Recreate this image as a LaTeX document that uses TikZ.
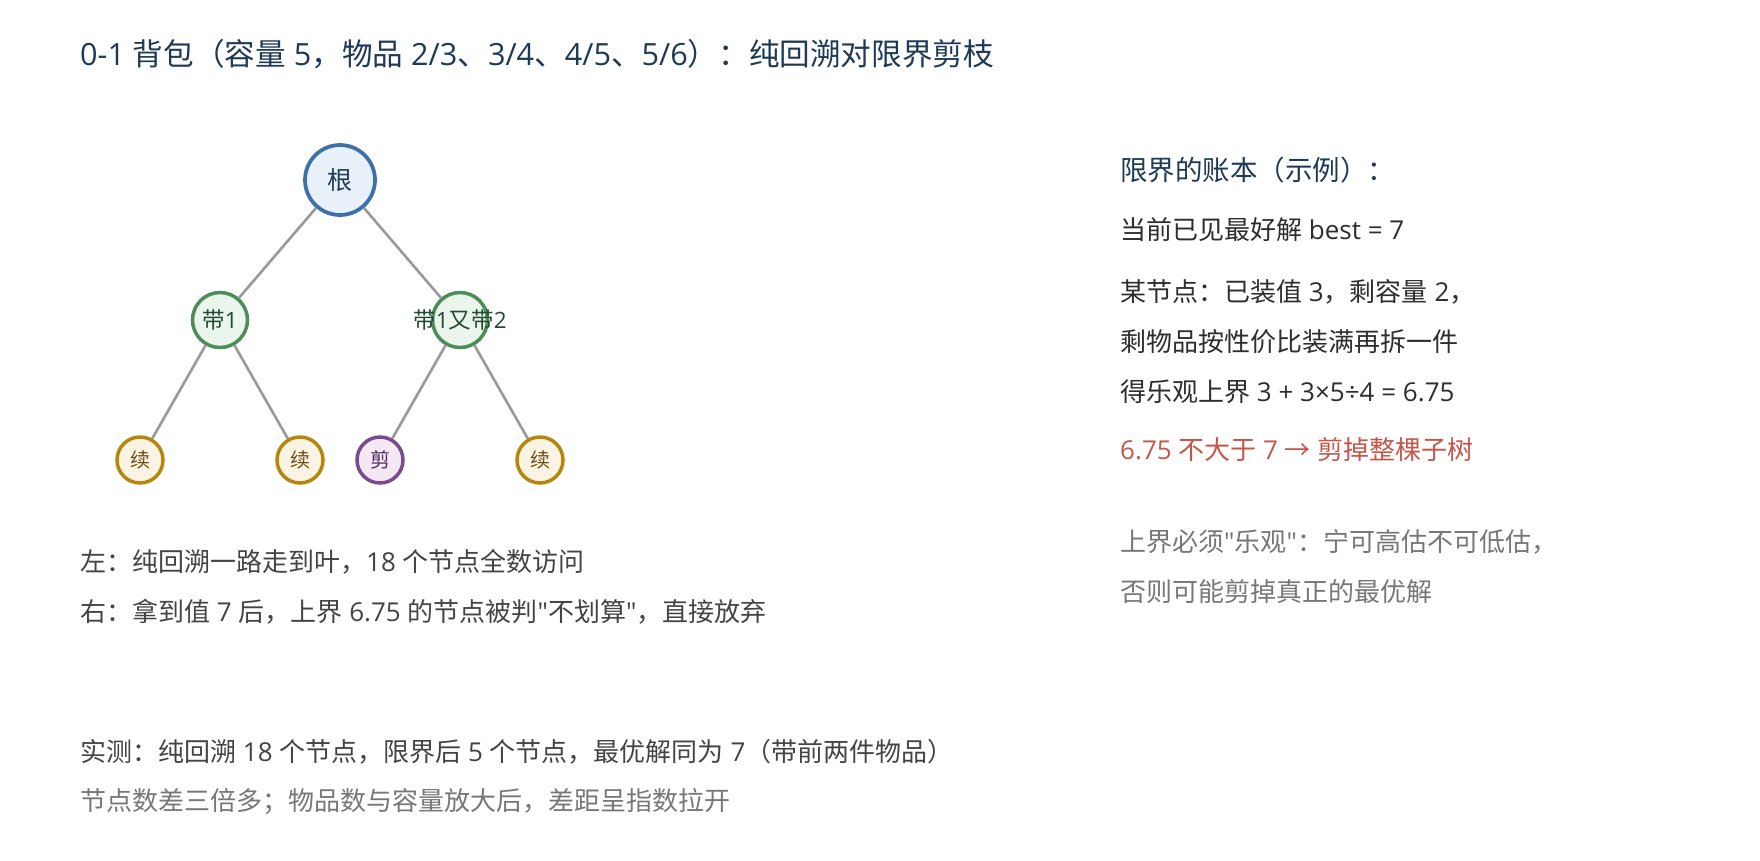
\documentclass[tikz,border=0pt]{standalone}
\usepackage{fontspec}
\setmainfont{Noto Sans CJK SC}[Ligatures=TeXOff]
\newfontfamily\latfont{Open Sans}[Ligatures=TeXOff]
\newcommand\lat[1]{{\latfont #1}}
\definecolor{navy}{HTML}{1E3A56}
\definecolor{edgegray}{HTML}{9A9A9A}
\definecolor{rootblue}{HTML}{3D6FA8}
\definecolor{rootfill}{HTML}{E8F0FA}
\definecolor{midgreen}{HTML}{4C8B5A}
\definecolor{midfill}{HTML}{EAF5EC}
\definecolor{midtext}{HTML}{234A30}
\definecolor{leafgold}{HTML}{B8860B}
\definecolor{leaffill}{HTML}{FBF3E3}
\definecolor{leaftext}{HTML}{6B4F12}
\definecolor{cutpurple}{HTML}{7B4A8E}
\definecolor{cutfill}{HTML}{F4E8F5}
\definecolor{cuttext}{HTML}{4A2A5C}
\definecolor{bodytext}{HTML}{2E2E2E}
\definecolor{lefttext}{HTML}{444444}
\definecolor{graytext}{HTML}{777777}
\definecolor{redtext}{HTML}{C4574A}
\begin{document}
\begin{tikzpicture}[x=1pt,y=-1pt,
  edge/.style={draw=edgegray,line width=2.6pt},
  rootnode/.style={circle,draw=rootblue,fill=rootfill,line width=3.75pt,minimum size=70pt,inner sep=0pt,text=navy,font=\fontsize{25}{28}\selectfont},
  midnode/.style={circle,draw=midgreen,fill=midfill,line width=3.5pt,minimum size=55pt,inner sep=0pt,text=midtext,font=\fontsize{22.5}{26}\selectfont},
  leafnode/.style={circle,draw=leafgold,fill=leaffill,line width=3.5pt,minimum size=46pt,inner sep=0pt,text=leaftext,font=\fontsize{20}{24}\selectfont},
  cutnode/.style={circle,draw=cutpurple,fill=cutfill,line width=3.5pt,minimum size=46pt,inner sep=0pt,text=cuttext,font=\fontsize{20}{24}\selectfont},
  txt/.style={anchor=west,inner sep=0pt},
  titlefont/.style={font=\fontsize{30.6}{34}\selectfont,text=navy},
  headfont/.style={font=\fontsize{27.5}{32}\selectfont,text=navy},
  bodyfont/.style={font=\fontsize{26}{30}\selectfont},
]
\useasboundingbox[fill=white] (0,0) rectangle (1760,860);

% title
\node[txt,titlefont] (title) at (80,54) {\lat{0-1 }背包（容量\lat{ 5}，物品\lat{ 2/3}、\lat{3/4}、\lat{4/5}、\lat{5/6}）：纯回溯对限界剪枝};

% tree
\node[rootnode] (root) at (340,180) {根};
\node[midnode] (b1) at (220,320) {\makebox[0pt]{带\lat{1}}};
\node[midnode] (b12) at (460,320) {\makebox[0pt]{带\lat{1}又带\lat{2}}};
\node[leafnode] (l1) at (140,460) {续};
\node[leafnode] (l2) at (300,460) {续};
\node[cutnode] (l3) at (380,460) {剪};
\node[leafnode] (l4) at (540,460) {续};

\draw[edge] (root) -- (b1);
\draw[edge] (root) -- (b12);
\draw[edge] (b1) -- (l1);
\draw[edge] (b1) -- (l2);
\draw[edge] (b12) -- (l3);
\draw[edge] (b12) -- (l4);

% left notes
\node[txt,bodyfont,text=lefttext] (n1) at (80,562) {左：纯回溯一路走到叶，\lat{18 }个节点全数访问};
\node[txt,bodyfont,text=lefttext] (n2) at (80,612) {右：拿到值\lat{ 7 }后，上界\lat{ 6.75 }的节点被判\lat{"}不划算\lat{"}，直接放弃};

% right panel
\node[txt,headfont] (r1) at (1120,170) {限界的账本（示例）：};
\node[txt,bodyfont,text=bodytext] (r2) at (1120,230) {当前已见最好解\lat{ best = 7}};
\node[txt,bodyfont,text=bodytext] (r3) at (1120,292) {某节点：已装值\lat{ 3}，剩容量\lat{ 2}，};
\node[txt,bodyfont,text=bodytext] (r4) at (1120,342) {剩物品按性价比装满再拆一件};
\node[txt,bodyfont,text=bodytext] (r5) at (1120,392) {得乐观上界\lat{ 3 + 3×5÷4 = 6.75}};
\node[txt,bodyfont,text=redtext] (r6) at (1120,450) {\lat{6.75 }不大于\lat{ 7 }→\lat{ }剪掉整棵子树};
\node[txt,bodyfont,text=graytext] (r7) at (1120,542) {上界必须\lat{"}乐观\lat{"}：宁可高估不可低估，};
\node[txt,bodyfont,text=graytext] (r8) at (1120,592) {否则可能剪掉真正的最优解};

% bottom
\node[txt,bodyfont,text=lefttext] (s1) at (80,752) {实测：纯回溯\lat{ 18 }个节点，限界后\lat{ 5 }个节点，最优解同为\lat{ 7}（带前两件物品）};
\node[txt,bodyfont,text=graytext] (s2) at (80,802) {节点数差三倍多；物品数与容量放大后，差距呈指数拉开};
\end{tikzpicture}
\end{document}
